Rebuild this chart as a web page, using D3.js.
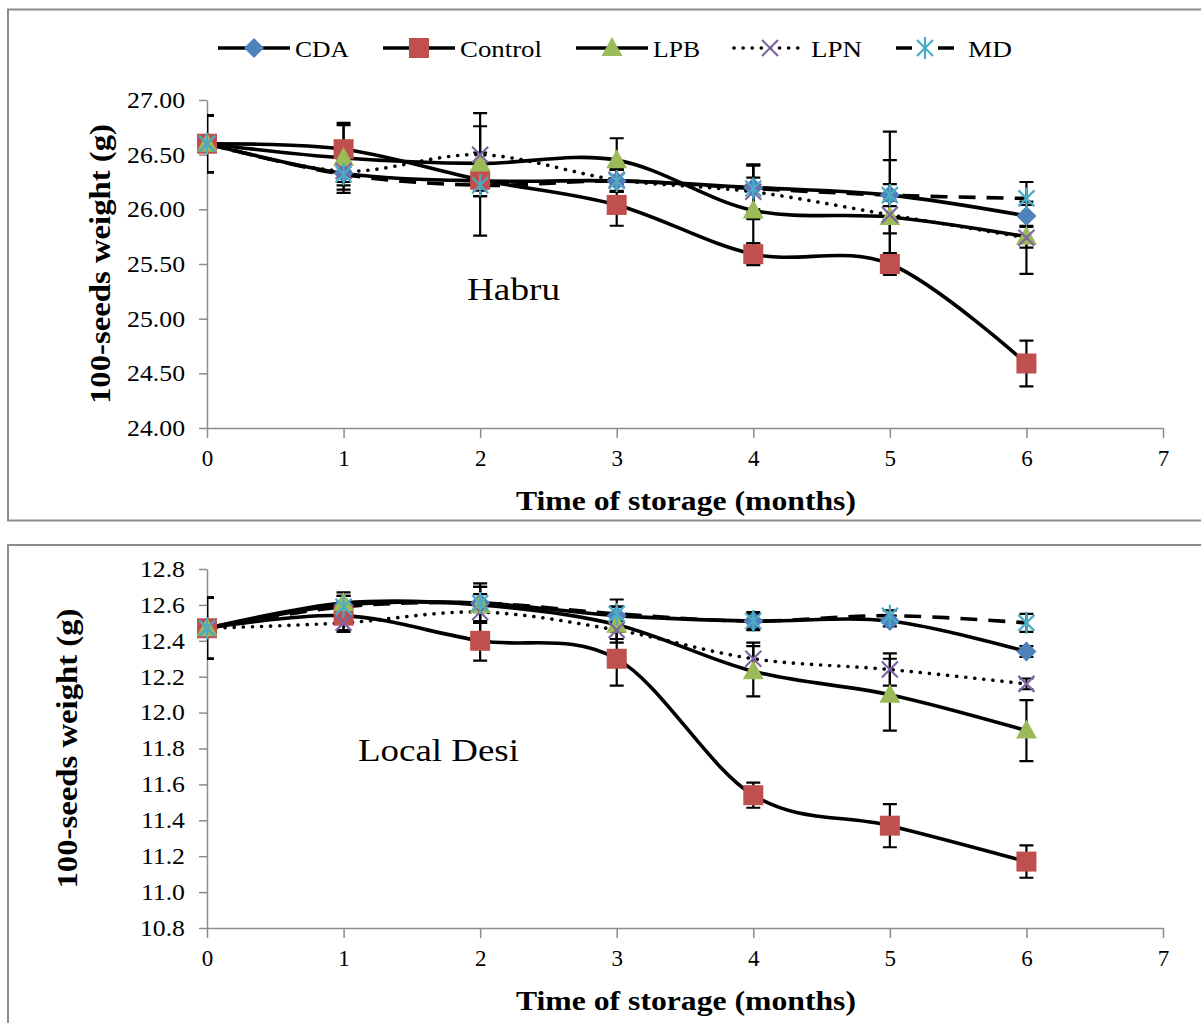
<!DOCTYPE html>
<html>
<head>
<meta charset="utf-8">
<script src="https://cdn.jsdelivr.net/npm/d3@7"></script>
<style>
  body { margin: 0; background: #fff; }
  svg text { font-family: "Liberation Serif", Tinos, "Times New Roman", Times, serif; fill: #000; }
</style>
</head>
<body>
<script>
// storage time (months) and axis ticks
var months = [0, 1, 2, 3, 4, 5, 6];
var monthTicks = [0, 1, 2, 3, 4, 5, 6, 7];
var seriesNames = ["CDA", "Control", "LPB", "LPN", "MD"];

// Habru - 100 seeds weight (g)
var habruCDA     = [26.60, 26.33, 26.26, 26.26, 26.20, 26.13, 25.94];
var habruControl = [26.60, 26.55, 26.27, 26.04, 25.59, 25.50, 24.59];
var habruLPB     = [26.60, 26.47, 26.42, 26.45, 25.99, 25.93, 25.75];
var habruLPN     = [26.60, 26.35, 26.50, 26.27, 26.16, 25.95, 25.74];
var habruMD      = [26.60, 26.32, 26.22, 26.26, 26.19, 26.13, 26.10];
// Habru - error bars
var habruCDAErr     = [0.26, 0.15, 0.50, 0.10, 0.20, 0.58, 0.10];
var habruControlErr = [0.26, 0.22, 0.10, 0.19, 0.10, 0.10, 0.21];
var habruLPBErr     = [0.26, 0.32, 0.10, 0.20, 0.30, 0.15, 0.10];
var habruLPNErr     = [0.26, 0.10, 0.38, 0.10, 0.25, 0.50, 0.33];
var habruMDErr      = [0.26, 0.10, 0.10, 0.10, 0.22, 0.10, 0.15];
var habruTicks = [24.0, 24.5, 25.0, 25.5, 26.0, 26.5, 27.0];

// Local Desi - 100 seeds weight (g)
var desiCDA     = [12.47, 12.60, 12.61, 12.54, 12.51, 12.51, 12.34];
var desiControl = [12.47, 12.54, 12.40, 12.30, 11.54, 11.37, 11.17];
var desiLPB     = [12.47, 12.61, 12.60, 12.49, 12.23, 12.10, 11.90];
var desiLPN     = [12.47, 12.50, 12.56, 12.46, 12.30, 12.24, 12.16];
var desiMD      = [12.47, 12.59, 12.61, 12.55, 12.51, 12.54, 12.50];
// Local Desi - error bars
var desiCDAErr     = [0.17, 0.05, 0.05, 0.05, 0.04, 0.03, 0.03];
var desiControlErr = [0.17, 0.08, 0.11, 0.15, 0.07, 0.12, 0.09];
var desiLPBErr     = [0.17, 0.06, 0.10, 0.10, 0.14, 0.20, 0.17];
var desiLPNErr     = [0.17, 0.05, 0.14, 0.05, 0.09, 0.09, 0.03];
var desiMDErr      = [0.17, 0.06, 0.11, 0.08, 0.05, 0.03, 0.05];
var desiTicks = [10.8, 11.0, 11.2, 11.4, 11.6, 11.8, 12.0, 12.2, 12.4, 12.6, 12.8];

// look of each series
var styles = {
    CDA:     { color: "#4F81BD", marker: "diamond",  dash: null },
    Control: { color: "#C0504D", marker: "square",   dash: null },
    LPB:     { color: "#9BBB59", marker: "triangle", dash: null },
    LPN:     { color: "#8064A2", marker: "x",        dash: "0.1,9" },
    MD:      { color: "#4BACC6", marker: "star",     dash: "17,11" }
};
var serif = '"Liberation Serif", Tinos, "Times New Roman", Times, serif';

var W = 1201, H = 1023;
var svg = d3.select("body").append("svg")
    .attr("width", W)
    .attr("height", H);

// stretch a text so its drawn width matches the picture
function stretch(sel, len) {
    sel.attr("textLength", len).attr("lengthAdjust", "spacingAndGlyphs");
}

function drawMarker(g, type, color, px, py) {
    var m = g.append("g").attr("transform", "translate(" + px + "," + py + ")");
    if (type === "diamond") {
        m.append("path").attr("d", "M0,-10L10,0L0,10L-10,0Z").attr("fill", color);
    } else if (type === "square") {
        m.append("rect").attr("x", -10).attr("y", -10).attr("width", 20).attr("height", 20).attr("fill", color);
    } else if (type === "triangle") {
        m.append("path").attr("d", "M0,-11L10.5,8L-10.5,8Z").attr("fill", color);
    } else {
        var p = "M-8,-8L8,8M-8,8L8,-8";
        if (type === "star") p += "M0,-11L0,11";
        m.append("path").attr("d", p).attr("stroke", color).attr("stroke-width", 2.2).attr("fill", "none");
    }
}

function drawPanel(o) {
    var g = svg.append("g").attr("font-family", serif);
    // frame
    g.append("rect")
        .attr("x", 8).attr("y", o.frameTop)
        .attr("width", 1300).attr("height", o.frameH)
        .attr("fill", "none").attr("stroke", "#8c8c8c").attr("stroke-width", 2);

    var x = d3.scaleLinear().domain([0, 7]).range([207, 1163]);
    var y = d3.scaleLinear().domain(o.domain).range([o.bottom, o.top]);

    // axes
    var yAxis = g.append("g")
        .attr("transform", "translate(207,0)")
        .call(d3.axisLeft(y).tickValues(o.ticks).tickFormat(d3.format(o.fmt)).tickSize(8).tickPadding(14).tickSizeOuter(0));
    var xAxis = g.append("g")
        .attr("transform", "translate(0," + o.bottom + ")")
        .call(d3.axisBottom(x).tickValues(monthTicks).tickFormat(d3.format("d")).tickSize(10).tickPadding(12).tickSizeOuter(0));
    [yAxis, xAxis].forEach(function (a) {
        a.attr("font-family", serif).attr("font-size", 23);
        a.selectAll("path, line").attr("stroke", "#8c8c8c").attr("stroke-width", 1.5);
        a.selectAll("text").attr("fill", "#000");
    });
    yAxis.selectAll("text").each(function () {
        stretch(d3.select(this), this.getComputedTextLength() * 1.12);
    });

    // axis titles
    var xt = g.append("text")
        .attr("x", 686).attr("y", o.bottom + 82)
        .attr("text-anchor", "middle")
        .style("font-size", "27px").style("font-weight", "bold")
        .text("Time of storage (months)");
    stretch(xt, 340);
    var yt = g.append("text")
        .attr("transform", "translate(" + o.yTitleX + "," + ((o.top + o.bottom) / 2) + ") rotate(-90)")
        .attr("text-anchor", "middle")
        .style("font-size", "29px").style("font-weight", "bold")
        .text("100-seeds weight (g)");
    stretch(yt, 280);

    // variety label
    var lab = g.append("text")
        .attr("x", o.labelX).attr("y", o.labelY)
        .style("font-size", "31px")
        .text(o.label);
    stretch(lab, o.labelW);

    // error bars, clipped to the plot area
    var clipId = "clip" + o.id;
    g.append("clipPath").attr("id", clipId)
        .append("rect").attr("x", 207).attr("y", o.top - 20).attr("width", 960).attr("height", o.bottom - o.top + 40);
    var eb = g.append("g").attr("clip-path", "url(#" + clipId + ")");
    o.series.forEach(function (s) {
        months.forEach(function (m, i) {
            var cx = x(m), y1 = y(s.values[i] + s.err[i]), y2 = y(s.values[i] - s.err[i]);
            eb.append("path")
                .attr("d", "M" + cx + "," + y1 + "V" + y2 + "M" + (cx - 7) + "," + y1 + "H" + (cx + 7) + "M" + (cx - 7) + "," + y2 + "H" + (cx + 7))
                .attr("stroke", "#000").attr("stroke-width", 2.2).attr("fill", "none");
        });
    });

    // smoothed lines
    var line = d3.line()
        .x(function (d, i) { return x(months[i]); })
        .y(function (d) { return y(d); })
        .curve(d3.curveCardinal.tension(0));
    o.series.forEach(function (s) {
        var st = styles[s.name];
        g.append("path")
            .attr("d", line(s.values))
            .attr("fill", "none").attr("stroke", "#000").attr("stroke-width", 3.6)
            .attr("stroke-linecap", st.dash === "0.1,9" ? "round" : "butt")
            .attr("stroke-dasharray", st.dash);
    });

    // markers
    o.series.forEach(function (s) {
        var st = styles[s.name];
        s.values.forEach(function (v, i) {
            drawMarker(g, st.marker, st.color, x(months[i]), y(v));
        });
    });
}

function makeSeries(vals, errs) {
    return seriesNames.map(function (n, i) {
        return { name: n, values: vals[i], err: errs[i] };
    });
}

drawPanel({
    id: 1, frameTop: 9.5, frameH: 511,
    top: 100, bottom: 428, domain: [24, 27], ticks: habruTicks, fmt: ".2f",
    yTitleX: 110, label: "Habru", labelX: 467, labelY: 300, labelW: 93,
    series: makeSeries([habruCDA, habruControl, habruLPB, habruLPN, habruMD],
                       [habruCDAErr, habruControlErr, habruLPBErr, habruLPNErr, habruMDErr])
});

drawPanel({
    id: 2, frameTop: 545, frameH: 600,
    top: 569, bottom: 928, domain: [10.8, 12.8], ticks: desiTicks, fmt: ".1f",
    yTitleX: 77, label: "Local Desi", labelX: 358, labelY: 761, labelW: 161,
    series: makeSeries([desiCDA, desiControl, desiLPB, desiLPN, desiMD],
                       [desiCDAErr, desiControlErr, desiLPBErr, desiLPNErr, desiMDErr])
});

// legend (top panel only)
var legend = svg.append("g").attr("transform", "translate(0,48)").attr("font-family", serif);
var legendText = [54, 82, 47, 51, 44];
var cursor = 218;
seriesNames.forEach(function (n, i) {
    var st = styles[n];
    var len = n === "MD" ? 58 : 72;
    legend.append("line")
        .attr("x1", cursor).attr("x2", cursor + len)
        .attr("stroke", "#000").attr("stroke-width", 3.6)
        .attr("stroke-linecap", st.dash === "0.1,9" ? "round" : "butt")
        .attr("stroke-dasharray", n === "MD" ? "16,26" : st.dash);
    drawMarker(legend, st.marker, st.color, cursor + len / 2, 0);
    var tx = cursor + len + (n === "MD" ? 14 : 5);
    var t = legend.append("text")
        .attr("x", tx).attr("y", 9)
        .style("font-size", "24px")
        .text(n);
    stretch(t, legendText[i]);
    cursor = tx + legendText[i] + 34;
});
</script>
</body>
</html>
